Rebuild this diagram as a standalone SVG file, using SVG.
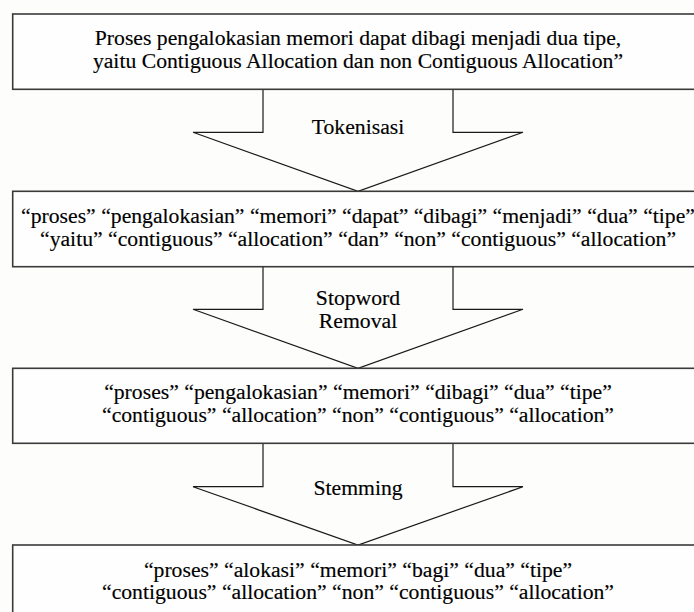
<svg xmlns="http://www.w3.org/2000/svg" width="694" height="612" viewBox="0 0 694 612">
<style>
.box{fill:#fefefe;stroke:#3a3a3a;stroke-width:1.6}
.arr{fill:none;stroke:#1a1a1a;stroke-width:1.2;stroke-linejoin:miter}
.t{font-family:'Liberation Serif','DejaVu Serif',serif;font-size:20px;fill:#000;stroke:#000;stroke-width:0.15;text-anchor:middle}
</style>
<rect x="0" y="0" width="694" height="612" fill="#fdfdfc"/>
<g id="connectors">
  <path class="arr" d="M263,89.3 V132.3 H193 L358,191.3 L523,132.3 H453 V89.3"/>
  <path class="arr" d="M263,266.7 V309.3 H193 L358,368.3 L523,309.3 H453 V266.7"/>
  <path class="arr" d="M263,443.3 V486.7 H193 L358,545 L523,486.7 H453 V443.3"/>
  <g transform="translate(358 0) scale(1.085 1)">
    <text class="t" x="0" y="134">Tokenisasi</text>
    <text class="t" x="0" y="305">Stopword</text>
    <text class="t" x="0" y="328">Removal</text>
    <text class="t" x="0" y="495">Stemming</text>
  </g>
</g>
<g id="node1">
  <rect class="box" x="12.7" y="14" width="691" height="75.3"/>
  <g transform="translate(358 0) scale(1.085 1)">
    <text class="t" x="0" y="45.5">Proses pengalokasian memori dapat dibagi menjadi dua tipe,</text>
    <text class="t" x="0" y="68">yaitu Contiguous Allocation dan non Contiguous Allocation”</text>
  </g>
</g>
<g id="node2">
  <rect class="box" x="12.7" y="191.3" width="691" height="75.4"/>
  <g transform="translate(358 0) scale(1.085 1)">
    <text class="t" x="0" y="223">“proses” “pengalokasian” “memori” “dapat” “dibagi” “menjadi” “dua” “tipe”</text>
    <text class="t" x="0" y="246.5">“yaitu” “contiguous” “allocation” “dan” “non” “contiguous” “allocation”</text>
  </g>
</g>
<g id="node3">
  <rect class="box" x="12.7" y="368.3" width="691" height="75"/>
  <g transform="translate(358 0) scale(1.085 1)">
    <text class="t" x="0" y="399">“proses” “pengalokasian” “memori” “dibagi” “dua” “tipe”</text>
    <text class="t" x="0" y="422">“contiguous” “allocation” “non” “contiguous” “allocation”</text>
  </g>
</g>
<g id="node4">
  <rect class="box" x="12.7" y="545" width="691" height="80"/>
  <g transform="translate(358 0) scale(1.085 1)">
    <text class="t" x="0" y="577">“proses” “alokasi” “memori” “bagi” “dua” “tipe”</text>
    <text class="t" x="0" y="599">“contiguous” “allocation” “non” “contiguous” “allocation”</text>
  </g>
</g>
</svg>
